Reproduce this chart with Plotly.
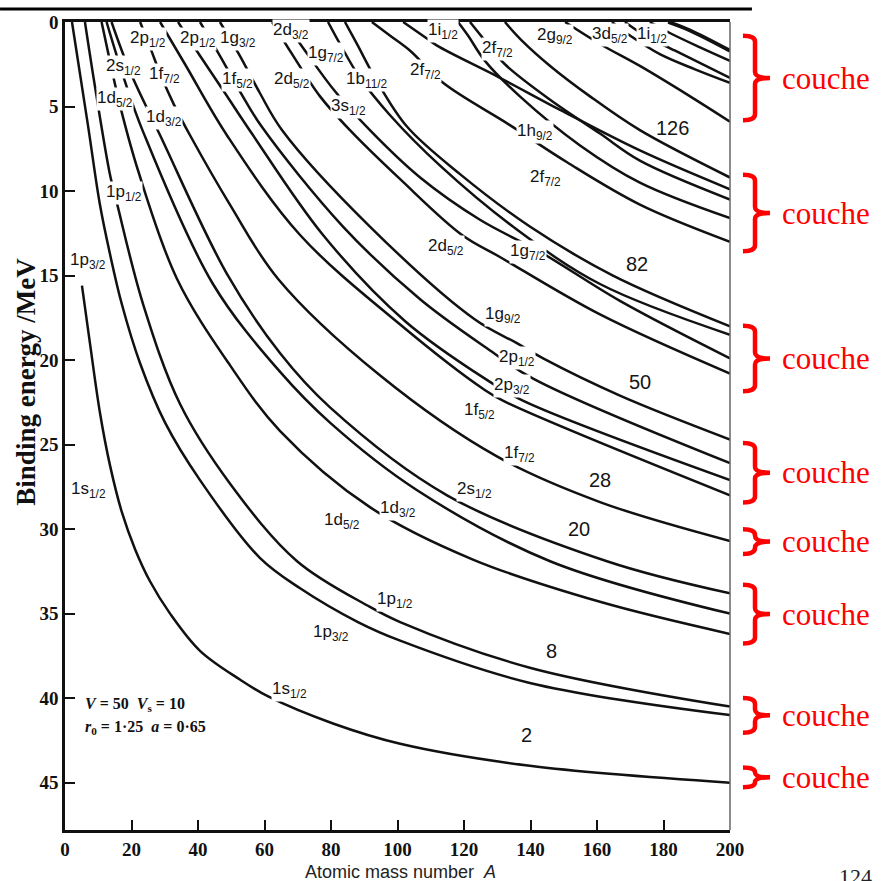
import plotly.graph_objects as go

# ---------------- data (A = atomic mass number, E = binding energy / MeV) ----------------
x_ticks = [0, 20, 40, 60, 80, 100, 120, 140, 160, 180, 200]
y_ticks = [0, 5, 10, 15, 20, 25, 30, 35, 40, 45]

a_1s1 = [5.1, 7.5, 10.5, 13.5, 17.1, 21.1, 25.6, 31.6, 40.6, 52.6, 61.1, 80.6, 100.8, 139.8, 200]
e_1s1 = [15.6, 19.0, 23.1, 26.2, 29.0, 31.2, 33.1, 35.0, 37.2, 38.9, 39.9, 41.5, 42.7, 44.0, 45.0]

a_1p3 = [2.1, 6.9, 10.5, 13.5, 17.1, 22.6, 30.1, 40.6, 58.6, 70.7, 88.1, 100.8, 139.8, 200]
e_1p3 = [0, 6.1, 10.8, 13.7, 16.7, 20.2, 23.7, 27.1, 31.7, 33.5, 35.5, 36.6, 39.1, 41.0]

a_1p1 = [6.0, 9.0, 13.5, 15.6, 23.5, 34.6, 49.6, 69.8, 91.7, 100.8, 139.8, 200]
e_1p1 = [0, 3.8, 9.0, 10.7, 16.7, 22.6, 27.3, 31.9, 34.6, 35.5, 38.2, 40.5]

a_1d5 = [11.0, 13.5, 16.5, 22.0, 33.7, 49.6, 64.7, 91.7, 122.7, 160.9, 200]
e_1d5 = [0, 2.3, 4.9, 8.8, 15.2, 20.3, 24.2, 28.7, 31.8, 34.3, 36.2]

a_2s1 = [12.5, 18.0, 23.5, 44.5, 64.7, 79.7, 105.9, 145.9, 200]
e_2s1 = [0, 3.5, 6.5, 15.5, 20.7, 23.7, 27.7, 31.9, 35.0]

a_1d3 = [14.0, 19.5, 28.6, 48.7, 64.7, 79.7, 114.9, 163.0, 200]
e_1d3 = [0, 2.9, 6.7, 14.9, 19.6, 22.8, 28.0, 31.9, 33.8]

a_1f7 = [22.6, 25.6, 28.9, 32.8, 37.6, 49.6, 64.1, 94.7, 129.9, 160.9, 200]
e_1f7 = [0, 1.5, 3.2, 4.9, 6.7, 10.8, 15.2, 20.9, 25.7, 28.4, 30.7]

a_2p3 = [28.6, 36.1, 48.7, 70.7, 100.8, 125.7, 131.7, 200]
e_2p3 = [0, 2.5, 6.7, 12.6, 17.9, 21.7, 22.4, 28.0]

a_1f5 = [34.0, 40.6, 48.1, 56.2, 77.6, 102.3, 126.3, 137.7, 200]
e_1f5 = [0, 2.0, 4.2, 6.6, 12.6, 17.7, 21.1, 22.4, 27.1]

a_2p1 = [40.6, 46.6, 52.6, 59.2, 83.6, 106.8, 126.9, 140.8, 200]
e_2p1 = [0, 2.0, 4.1, 6.2, 12.1, 16.4, 19.3, 21.1, 26.1]

a_1g9 = [46.6, 52.6, 58.6, 65.3, 91.7, 123.3, 135.9, 143.8, 166.9, 200]
e_1g9 = [0, 2.0, 4.2, 6.4, 12.1, 17.6, 19.0, 19.9, 22.1, 24.7]

a_1g7 = [62.3, 68.3, 76.7, 85.7, 100.8, 119.4, 130.8, 160.9, 200]
e_1g7 = [0, 1.9, 4.4, 6.4, 9.3, 12.6, 13.9, 17.3, 20.8]

a_2d5 = [66.2, 72.2, 81.2, 91.7, 106.8, 124.8, 142.9, 166.9, 200]
e_2d5 = [0, 1.7, 4.1, 6.4, 9.2, 11.7, 13.6, 16.5, 19.9]

a_2d3 = [79.1, 82.7, 88.7, 97.7, 112.8, 134.7, 160.9, 200]
e_2d3 = [0, 1.3, 3.3, 5.5, 8.5, 12.1, 15.5, 18.5]

a_1h11 = [84.2, 87.8, 93.8, 102.9, 118.8, 139.8, 164.8, 200]
e_1h11 = [0, 1.3, 3.5, 6.2, 9.0, 12.1, 15.0, 18.0]

a_1h9 = [92.3, 97.7, 103.8, 113.7, 133.8, 151.0, 172.9, 200]
e_1h9 = [0, 0.8, 1.7, 3.6, 6.1, 8.3, 10.8, 13.0]

a_2f7 = [118.2, 121.2, 126.3, 136.8, 154.9, 172.9, 200]
e_2f7 = [0, 0.8, 2.3, 4.4, 7.3, 9.5, 11.6]

a_1i13 = [121.8, 126.3, 132.3, 145.9, 160.9, 172.9, 200]
e_1i13 = [0, 1.1, 2.5, 4.6, 6.6, 8.2, 10.5]

a_3p3 = [101.7, 108.3, 111.9, 130.8, 148.9, 172.9, 200]
e_3p3 = [0, 0.9, 1.4, 3.3, 5.2, 7.6, 9.9]

a_2f5 = [132.3, 137.4, 145.9, 157.9, 172.9, 200]
e_2f5 = [0, 1.1, 2.6, 4.4, 6.4, 9.2]

a_2g9 = [150.4, 160.9, 172.9, 188.0, 200]
e_2g9 = [0, 1.3, 2.6, 4.4, 5.9]

a_1i11 = [164.5, 169.9, 178.9, 189.5, 200]
e_1i11 = [0, 0.8, 1.9, 2.8, 3.6]

a_3d5 = [168.4, 174.4, 183.5, 200]
e_3d5 = [0, 0.8, 1.7, 3.3]

a_1j15 = [175.9, 181.9, 191.0, 200]
e_1j15 = [0, 0.65, 1.5, 2.3]

a_4s1 = [181.4, 188.0, 200]
e_4s1 = [0, 0.5, 1.7]

label_text = ["2p<sub>1/2</sub>", "2p<sub>1/2</sub>", "1g<sub>3/2</sub>", "2d<sub>3/2</sub>", "1g<sub>7/2</sub>",
              "2s<sub>1/2</sub>", "1f<sub>7/2</sub>", "1f<sub>5/2</sub>", "2d<sub>5/2</sub>", "1b<sub>11/2</sub>",
              "3s<sub>1/2</sub>", "1d<sub>5/2</sub>", "1d<sub>3/2</sub>", "1p<sub>1/2</sub>", "1p<sub>3/2</sub>",
              "1s<sub>1/2</sub>", "1i<sub>1/2</sub>", "2f<sub>7/2</sub>", "2f<sub>7/2</sub>", "2g<sub>9/2</sub>",
              "3d<sub>5/2</sub>", "1i<sub>1/2</sub>", "1h<sub>9/2</sub>", "2f<sub>7/2</sub>", "2d<sub>5/2</sub>",
              "1g<sub>7/2</sub>", "1g<sub>9/2</sub>", "2p<sub>1/2</sub>", "2p<sub>3/2</sub>", "1f<sub>5/2</sub>",
              "1f<sub>7/2</sub>", "2s<sub>1/2</sub>", "1d<sub>3/2</sub>", "1d<sub>5/2</sub>", "1p<sub>1/2</sub>",
              "1p<sub>3/2</sub>", "1s<sub>1/2</sub>"]
label_a = [25.0, 40.0, 52.0, 68.0, 78.5,
           17.7, 29.8, 52.0, 68.3, 90.8,
           85.4, 15.0, 29.8, 17.7, 6.9,
           7.2, 113.7, 130.2, 108.3, 147.4,
           163.9, 176.5, 141.4, 144.4, 114.6,
           139.2, 131.7, 135.9, 134.4, 124.8,
           136.8, 123.3, 100.2, 83.3, 99.2,
           80.0, 67.4]
label_e = [1.0, 1.0, 1.0, 0.55, 1.9,
           2.64, 3.11, 3.41, 3.41, 3.46,
           5.05, 4.58, 5.70, 10.1, 14.15,
           27.66, 0.55, 1.59, 2.88, 0.82,
           0.76, 0.76, 6.52, 9.22, 13.33,
           13.62, 17.32, 19.85, 21.55, 23.02,
           25.54, 27.66, 28.83, 29.54, 34.17,
           36.17, 39.52]

magic_text = ["126", "82", "50", "28", "20", "8", "2"]
magic_a = [182.6, 172.0, 172.9, 160.9, 154.6, 146.2, 138.9]
magic_e = [6.3, 14.3, 21.3, 27.1, 30.0, 37.2, 42.2]

shell_top = [0.82, 9.04, 17.97, 24.90, 30.01, 33.29, 39.99, 44.10]
shell_bottom = [5.81, 13.56, 21.84, 28.42, 31.47, 36.76, 42.04, 45.27]

curves = [
    (a_1s1, e_1s1), (a_1p3, e_1p3), (a_1p1, e_1p1), (a_1d5, e_1d5), (a_2s1, e_2s1), (a_1d3, e_1d3),
    (a_1f7, e_1f7), (a_2p3, e_2p3), (a_1f5, e_1f5), (a_2p1, e_2p1), (a_1g9, e_1g9),
    (a_1g7, e_1g7), (a_2d5, e_2d5), (a_2d3, e_2d3), (a_1h11, e_1h11),
    (a_1h9, e_1h9), (a_2f7, e_2f7), (a_1i13, e_1i13), (a_3p3, e_3p3), (a_2f5, e_2f5),
    (a_2g9, e_2g9), (a_1i11, e_1i11), (a_3d5, e_3d5), (a_1j15, e_1j15),
]

fig = go.Figure()
for a, e in curves:
    fig.add_trace(go.Scatter(x=a, y=e, mode="lines", hoverinfo="skip", showlegend=False,
                             line=dict(color="#111111", width=2.5, shape="spline", smoothing=1.0)))
fig.add_trace(go.Scatter(x=a_4s1, y=e_4s1, mode="lines", hoverinfo="skip", showlegend=False,
                         line=dict(color="#111111", width=3.8, shape="spline", smoothing=1.0)))

# level labels
for t, a, e in zip(label_text, label_a, label_e):
    fig.add_annotation(x=a, y=e, text=t, showarrow=False, bgcolor="white", borderpad=0,
                       font=dict(family="Liberation Sans", size=17, color="#151515"))
for t, a, e in zip(magic_text, magic_a, magic_e):
    fig.add_annotation(x=a, y=e, text=t, showarrow=False,
                       font=dict(family="Liberation Sans", size=20, color="#151515"))

# parameters text
fig.add_annotation(xref="paper", x=0.027, y=40.4, xanchor="left", yanchor="middle", showarrow=False,
                   text="<i>V</i> = 50  <i>V</i><sub>s</sub> = 10",
                   font=dict(family="Liberation Serif", size=16, color="#111", weight="bold"))
fig.add_annotation(xref="paper", x=0.027, y=41.75, xanchor="left", yanchor="middle", showarrow=False,
                   text="<i>r</i><sub>0</sub> = 1·25  <i>a</i> = 0·65",
                   font=dict(family="Liberation Serif", size=16, color="#111", weight="bold"))

# axis titles
fig.add_annotation(xref="paper", yref="paper", x=-0.060, y=0.555, xanchor="center", yanchor="middle",
                   textangle=-90, showarrow=False, text="Binding energy /MeV",
                   font=dict(family="Liberation Serif", size=27, color="#111", weight="bold"))
fig.add_annotation(xref="paper", yref="paper", x=0.504, y=-0.0515, xanchor="center", yanchor="middle",
                   showarrow=False, text="Atomic mass number  <i>A</i>",
                   font=dict(family="Liberation Sans", size=18, color="#222"))
fig.add_annotation(xref="paper", yref="paper", x=1.188, y=-0.0575, xanchor="center", yanchor="middle",
                   showarrow=False, text="124",
                   font=dict(family="Liberation Serif", size=22, color="#222"))

# red shell brackets + "couche"
xa, xb, xc = 1.0195, 1.0376, 1.0602
for top, bot in zip(shell_top, shell_bottom):
    mid = (top + bot) / 2
    d = min(0.35, (bot - top) / 4)
    path = (f"M {xa},{top} Q {xb},{top} {xb},{top + d} L {xb},{mid - d} Q {xb},{mid} {xc},{mid} "
            f"M {xc},{mid} Q {xb},{mid} {xb},{mid + d} L {xb},{bot - d} Q {xb},{bot} {xa},{bot}")
    fig.add_shape(type="path", xref="paper", yref="y", path=path,
                  line=dict(color="#ff0000", width=4.5))
    fig.add_annotation(xref="paper", x=1.0752, y=mid, xanchor="left", yanchor="middle",
                       showarrow=False, text="couche",
                       font=dict(family="Liberation Serif", size=31, color="#ff0000"))

# frame decorations
fig.add_shape(type="line", xref="paper", yref="paper", x0=-0.0977, x1=1.033, y0=1.016, y1=1.016,
              line=dict(color="black", width=3))
fig.add_shape(type="line", xref="paper", yref="paper", x0=1, x1=1, y0=0, y1=1,
              line=dict(color="#666", width=1.5))

tickfont = dict(family="Liberation Serif", size=19, color="#111", weight="bold")
fig.update_layout(
    width=888, height=881,
    margin=dict(l=65, r=158, t=16, b=51),
    plot_bgcolor="white", paper_bgcolor="white", showlegend=False,
    xaxis=dict(range=[0, 200], tickvals=x_ticks, ticks="inside", ticklen=10, tickwidth=2,
               tickcolor="#111", showline=True, linewidth=2.5, linecolor="#111", mirror=True,
               showgrid=False, zeroline=False, tickfont=tickfont),
    yaxis=dict(range=[47.8, 0], tickvals=y_ticks, ticks="inside", ticklen=10, tickwidth=2,
               tickcolor="#111", showline=True, linewidth=2.5, linecolor="#111",
               showgrid=False, zeroline=False, tickfont=tickfont),
)

fig.write_html("out.html", config={"displayModeBar": False},
               post_script="document.body.style.margin='0';document.body.style.overflow='hidden';")
